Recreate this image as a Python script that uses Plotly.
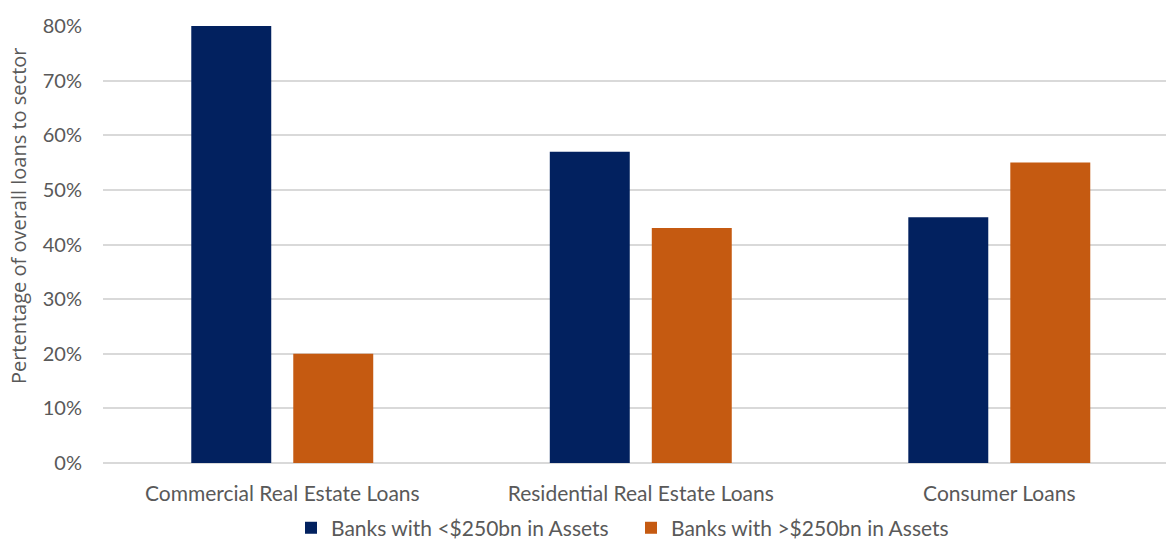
import plotly.graph_objects as go

categories = ["Commercial Real Estate Loans", "Residential Real Estate Loans", "Consumer Loans"]
small_banks = [0.80, 0.57, 0.45]
large_banks = [0.20, 0.43, 0.55]
series_names = ["Banks with <$250bn in Assets", "Banks with >$250bn in Assets"]
tick_values = [0, 0.1, 0.2, 0.3, 0.4, 0.5, 0.6, 0.7, 0.8]
tick_labels = ["0%", "10%", "20%", "30%", "40%", "50%", "60%", "70%", "80%"]

NAVY = "#02215F"
ORANGE = "#C55A11"
TEXT = "#595959"
FONT = "Lato, 'Open Sans', sans-serif"

fig = go.Figure()
fig.add_trace(go.Bar(x=categories, y=small_banks, name=series_names[0],
                     marker=dict(color=NAVY, line=dict(width=0))))
fig.add_trace(go.Bar(x=categories, y=large_banks, name=series_names[1],
                     marker=dict(color=ORANGE, line=dict(width=0))))

W, H = 1166, 539
L, T, B = 103, 26, 76
fig.update_layout(
    width=W, height=H,
    margin=dict(l=L, r=0, t=T, b=B, autoexpand=False),
    paper_bgcolor="white", plot_bgcolor="white",
    barmode="group", bargap=0.431, bargroupgap=0.216,
    font=dict(family=FONT, color=TEXT, size=20),
    showlegend=True,
    legend=dict(orientation="h", x=(291 - L) / (W - L), xanchor="left", xref="paper",
                y=-0.149, yanchor="middle", font=dict(size=21, color=TEXT),
                itemwidth=30, tracegroupgap=0, entrywidthmode="pixels",
                entrywidth=295),
    xaxis=dict(range=[-0.5, 2.465], showgrid=False, showline=False,
               ticks="", tickfont=dict(size=21, color=TEXT), ticklabelstandoff=16),
    yaxis=dict(range=[0, 0.8], tickvals=tick_values, ticktext=tick_labels,
               showgrid=True, gridcolor="#D9D9D9", gridwidth=1.5,
               zeroline=True, zerolinecolor="#D9D9D9", zerolinewidth=1.5,
               showline=False, ticks="", ticklabelstandoff=20,
               tickfont=dict(size=20, color=TEXT)),
    annotations=[dict(text="Pertentage of overall loans to sector",
                      xref="paper", yref="paper", x=-(L - 18) / (W - L), y=0.565,
                      xanchor="center", yanchor="middle", textangle=-90,
                      showarrow=False,
                      font=dict(family="'Open Sans', Lato, sans-serif", size=20, color=TEXT))],
)

fig.write_html("out.html")
